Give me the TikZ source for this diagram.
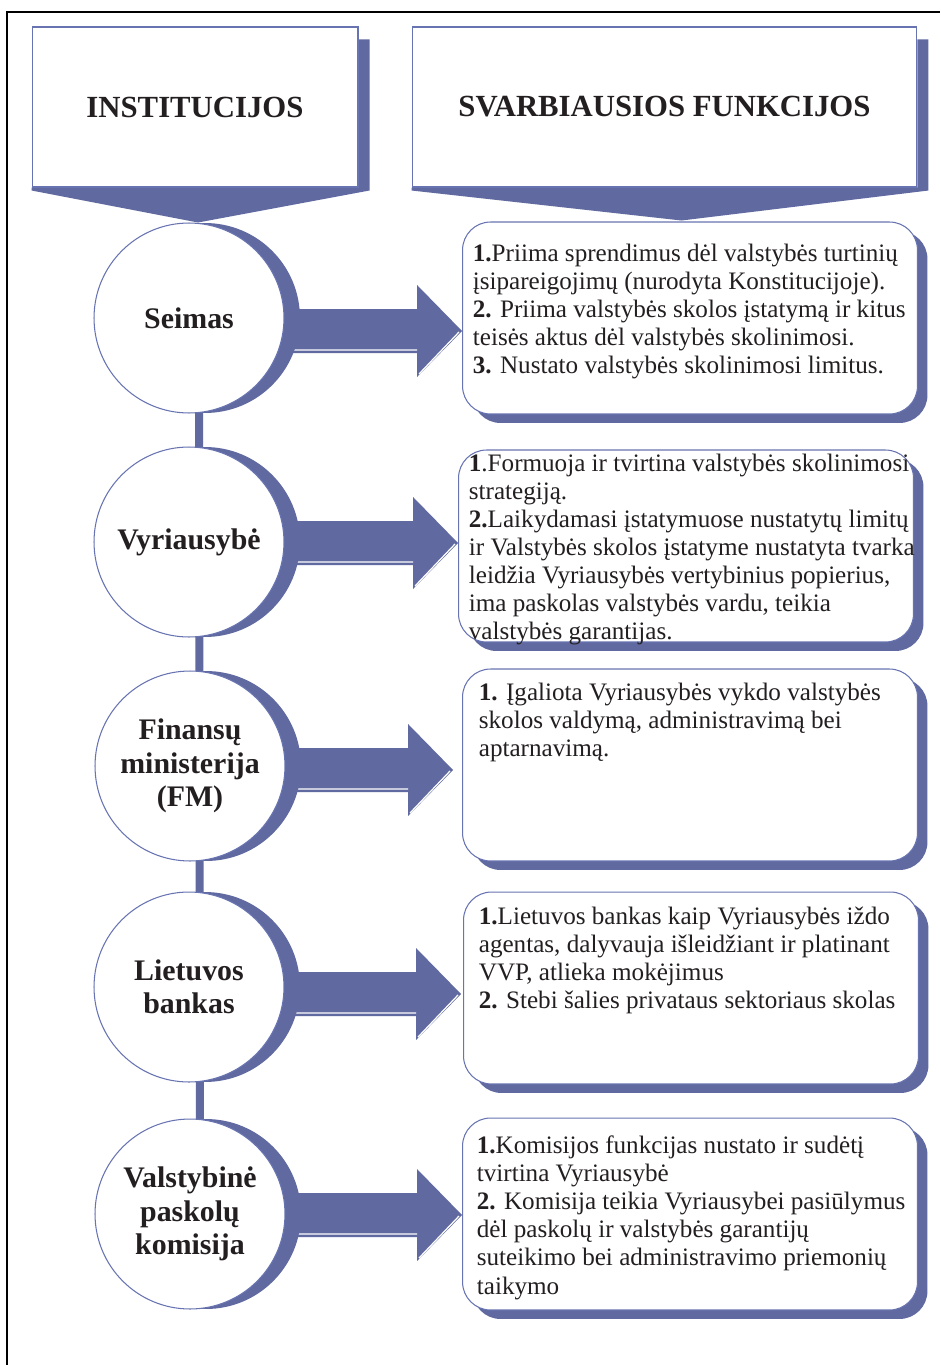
\documentclass[tikz,border=0pt]{standalone}
\usepackage{fontspec}
\setmainfont{Liberation Serif}
\usepackage{xcolor}
\usetikzlibrary{positioning,calc,backgrounds,shadows}

\definecolor{fnblue}{RGB}{96,106,160}
\definecolor{fnline}{RGB}{104,116,178}
\definecolor{fntext}{RGB}{35,31,32}

\begin{document}
\begin{tikzpicture}[
  x=0.02cm, y=-0.02cm,
  hdbox/.style={rectangle, draw=fnline, fill=white, line width=0.6pt,
             minimum height=3.2cm, text=fntext,
             font=\bfseries\fontsize{17.5}{20}\selectfont},
  inst/.style={circle, draw=fnline, fill=white, line width=0.6pt,
             minimum size=3.8cm, inner sep=0pt, align=center, text=fntext,
             font=\bfseries\fontsize{17}{19}\selectfont,
             general shadow={fill=fnblue, shadow xshift=0.32cm}},
  fun/.style={rectangle, rounded corners=0.56cm, draw=fnline, fill=white,
             line width=0.6pt, minimum width=9.1cm, minimum height=3.84cm,
             general shadow={fill=fnblue, shadow xshift=0.2cm, shadow yshift=-0.18cm}},
  txt/.style={anchor=north west, inner sep=0pt, align=left, text=fntext,
             font=\fontsize{14.3}{16}\selectfont},
  flow/.style={fill=fnblue},
  bevel/.style={draw=white, line width=0.7pt},
  link/.style={draw=fnblue, line width=4.5pt},
  pageframe/.style={draw=black, line width=1.2pt}
]
\useasboundingbox (0,0) rectangle (940,1365);
\draw[pageframe] (7,1365) -- (7,12) -- (940,12);

% Headers
\node[hdbox, minimum width=6.52cm] (hd1) at (195,107) {INSTITUCIJOS};
\node[hdbox, minimum width=10.1cm] (hd2) at (664.5,107) {SVARBIAUSIOS FUNKCIJOS};

% Institutions
\node[inst] (c1) at (189,318)  {Seimas};
\node[inst] (c2) at (189,542)  {Vyriausybė};
\node[inst] (c3) at (190,766)  {Finansų\\ministerija\\(FM)};
\node[inst] (c4) at (189,987)  {Lietuvos\\bankas};
\node[inst] (c5) at (190,1214) {Valstybinė\\paskolų\\komisija};

% Functions
\node[fun] (b1) at (690,318)  {};
\node[fun] (b2) at (686,546)  {};
\node[fun] (b3) at (690,765)  {};
\node[fun] (b4) at (691,988)  {};
\node[fun] (b5) at (690,1214) {};

\node[txt] (t1) at ($(b1.north west)+(10.5,22)$) {%
\textbf{1.}Priima sprendimus dėl valstybės turtinių\\
įsipareigojimų (nurodyta Konstitucijoje).\\
\textbf{2.} Priima valstybės skolos įstatymą ir kitus\\
teisės aktus dėl valstybės skolinimosi.\\
\textbf{3.} Nustato valstybės skolinimosi limitus.};
\node[txt] (t2) at ($(b2.north west)+(10.5,4)$) {%
\textbf{1}.Formuoja ir tvirtina valstybės skolinimosi\\
strategiją.\\
\textbf{2.}Laikydamasi įstatymuose nustatytų limitų\\
ir Valstybės skolos įstatyme nustatyta tvarka\\
leidžia Vyriausybės vertybinius popierius,\\
ima paskolas valstybės vardu, teikia\\
valstybės garantijas.};
\node[txt] (t3) at ($(b3.north west)+(16.5,14)$) {%
\textbf{1.} Įgaliota Vyriausybės vykdo valstybės\\
skolos valdymą, administravimą bei\\
aptarnavimą.};
\node[txt] (t4) at ($(b4.north west)+(15.5,15)$) {%
\textbf{1.}Lietuvos bankas kaip Vyriausybės iždo\\
agentas, dalyvauja išleidžiant ir platinant\\
VVP, atlieka mokėjimus\\
\textbf{2.} Stebi šalies privataus sektoriaus skolas};
\node[txt] (t5) at ($(b5.north west)+(14.5,18)$) {%
\textbf{1.}Komisijos funkcijas nustato ir sudėtį\\
tvirtina Vyriausybė\\
\textbf{2.} Komisija teikia Vyriausybei pasiūlymus\\
dėl paskolų ir valstybės garantijų\\
suteikimo bei administravimo priemonių\\
taikymo};

% Arrow tips
\coordinate (a1) at ($(b1.west)+(0,13)$);
\coordinate (a2) at ($(b2.west)+(0,-3)$);
\coordinate (a3) at ($(b3.west)+(-9,5)$);
\coordinate (a4) at ($(b4.west)+(-2,6)$);
\coordinate (a5) at ($(b5.west)+(0,1)$);

\begin{scope}[on background layer]
% header shadows and chevrons
\fill[flow] ($(hd1.north east)+(0,13)$) -- ++(11,0) -- ($(hd1.south east)+(11,3)$)
  -- ($(hd1.south)+(3,35)$) -- ($(hd1.south west)+(0,3)$) -- (hd1.south west)
  -- (hd1.south east) -- cycle;
\fill[flow] ($(hd2.north east)+(0,13)$) -- ++(11,0) -- ($(hd2.south east)+(11,3)$)
  -- ($(hd2.south)+(17,33)$) -- ($(hd2.south west)+(0,3)$) -- (hd2.south west)
  -- (hd2.south east) -- cycle;

% vertical link
\draw[link] ([xshift=0.2cm]c1.center) -- ([xshift=0.2cm]c5.center);

% arrows
\fill[flow] (a1) -- ++(-45,-46) -- ++(0,24) -- ($(c1 |- a1)+(0,-22)$) -- ++(0,44) -- ($(a1)+(-45,22)$) -- ++(0,24) -- cycle;
\fill[flow] (a2) -- ++(-45,-46) -- ++(0,24) -- ($(c2 |- a2)+(0,-22)$) -- ++(0,44) -- ($(a2)+(-45,22)$) -- ++(0,24) -- cycle;
\fill[flow] (a3) -- ++(-45,-46) -- ++(0,24) -- ($(c3 |- a3)+(0,-22)$) -- ++(0,44) -- ($(a3)+(-45,22)$) -- ++(0,24) -- cycle;
\fill[flow] (a4) -- ++(-45,-46) -- ++(0,24) -- ($(c4 |- a4)+(0,-22)$) -- ++(0,44) -- ($(a4)+(-45,22)$) -- ++(0,24) -- cycle;
\fill[flow] (a5) -- ++(-45,-46) -- ++(0,24) -- ($(c5 |- a5)+(0,-22)$) -- ++(0,44) -- ($(a5)+(-45,22)$) -- ++(0,24) -- cycle;

\draw[bevel] ($(c1 |- a1)+(0,19)$) -- ($(a1)+(-45,19)$) ($(a1)+(-43,43)$) -- ($(a1)+(-3,1)$);
\draw[bevel] ($(c2 |- a2)+(0,19)$) -- ($(a2)+(-45,19)$) ($(a2)+(-43,43)$) -- ($(a2)+(-3,1)$);
\draw[bevel] ($(c3 |- a3)+(0,19)$) -- ($(a3)+(-45,19)$) ($(a3)+(-43,43)$) -- ($(a3)+(-3,1)$);
\draw[bevel] ($(c4 |- a4)+(0,19)$) -- ($(a4)+(-45,19)$) ($(a4)+(-43,43)$) -- ($(a4)+(-3,1)$);
\draw[bevel] ($(c5 |- a5)+(0,19)$) -- ($(a5)+(-45,19)$) ($(a5)+(-43,43)$) -- ($(a5)+(-3,1)$);
\end{scope}
\end{tikzpicture}
\end{document}
